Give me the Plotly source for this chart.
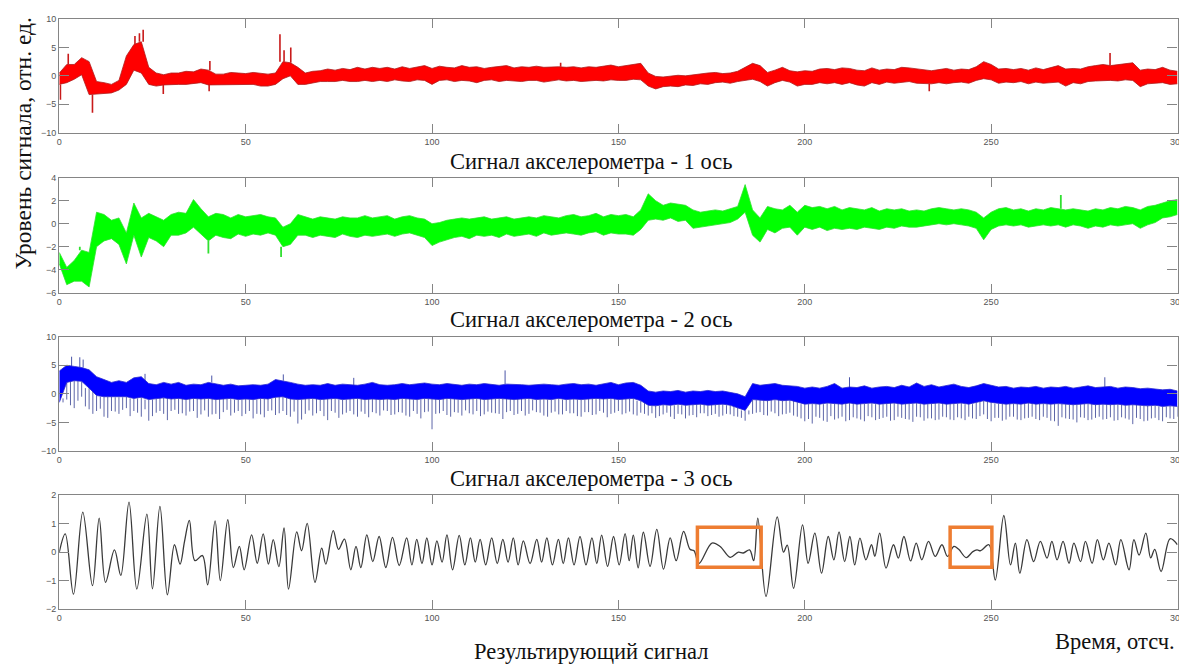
import plotly.graph_objects as go

# ---------------- data ----------------
t = list(range(0, 301, 2))  # sample grid, time in samples
t_mid = list(range(1, 300, 2))  # in-between samples (used for the dense spikes of axis 3)

red_hi = [0.5, 2.0, 2.0, 3.2, 2.5, -1.0, -1.2, -1.5, -0.8, 3.5,
          5.5, 6.0, 1.5, 0.5, 0.2, 0.5, 0.5, 0.8, 0.7, 1.2,
          1.0, 0.3, 0.3, 0.6, 0.5, 0.4, 0.6, 0.5, 0.3, 0.5,
          2.5, 2.3, 1.5, 0.5, 0.8, 0.9, 1.2, 1.0, 1.3, 1.1,
          1.5, 1.2, 1.5, 1.3, 1.5, 1.2, 1.6, 1.3, 1.5, 1.8,
          1.3, 1.7, 1.5, 1.4, 1.8, 1.5, 1.6, 1.3, 1.5, 1.6,
          1.8, 1.4, 1.6, 1.5, 1.7, 1.5, 1.6, 1.6, 1.5, 1.6,
          1.4, 1.6, 1.5, 1.7, 1.9, 1.6, 1.8, 1.9, 2.2, 0.5,
          -0.1, -0.2, 0.0, 0.1, 0.0, 0.2, 0.3, 0.5, 0.6, 0.4,
          0.5, 0.8, 1.5, 2.2, 1.8, 0.6, 1.0, 1.5, 0.9, 0.7,
          0.9, 0.8, 1.2, 1.3, 1.1, 1.4, 1.3, 1.0, 0.9, 1.4,
          1.0, 1.2, 1.1, 1.5, 1.4, 1.2, 1.0, 0.9, 1.1, 1.3,
          1.0, 1.2, 1.1, 1.6, 2.5, 2.0, 1.2, 1.3, 1.1, 1.3,
          1.0, 1.4, 1.1, 1.5, 1.8, 1.2, 1.3, 1.2, 1.6, 1.8,
          2.0, 1.8, 2.0, 2.1, 2.3, 1.0, 1.2, 1.1, 1.5, 1.0,
          0.8]
red_lo = [-1.5, -1.2, -0.6, 0.2, -3.3, -3.2, -3.0, -3.0, -2.5, -1.5,
          1.0, 0.5, -1.5, -1.8, -1.6, -1.5, -1.5, -1.5, -1.3, -1.2,
          -1.6, -1.6, -1.5, -1.5, -1.6, -1.5, -1.5, -1.8, -1.8, -1.5,
          -0.5, 0.0, -1.5, -1.5, -1.2, -1.0, -1.0, -1.0, -0.8, -1.0,
          -1.0, -0.8, -1.0, -0.8, -1.0, -0.7, -0.9, -1.0, -0.7, -0.8,
          -1.5, -0.8, -0.7, -1.0, -0.8, -0.9, -1.2, -0.8, -0.7, -1.0,
          -0.8, -0.9, -1.0, -0.8, -0.8, -1.1, -0.9, -0.7, -0.9, -0.8,
          -1.0, -0.9, -0.8, -0.9, -0.7, -0.8, -0.8, -0.6, -0.7, -1.8,
          -2.3, -1.9, -1.8, -1.9, -1.6, -1.7, -1.4, -1.5, -1.2, -1.1,
          -1.3, -1.0, -0.8, -0.6, -1.0, -1.8, -1.2, -0.8, -1.1, -1.8,
          -1.5, -1.5, -1.2, -1.4, -1.2, -1.5, -1.2, -1.6, -1.8, -1.2,
          -1.5, -1.1, -1.3, -1.1, -1.0, -1.3, -1.4, -1.4, -1.2, -1.4,
          -1.2, -1.1, -1.3, -0.8, -0.5, -0.7, -1.3, -1.1, -1.2, -1.0,
          -1.4, -1.1, -1.3, -1.2, -1.1, -1.8, -1.2, -1.4, -1.0, -0.9,
          -0.8, -0.8, -0.9, -0.7, -0.8, -1.9, -1.4, -1.3, -1.2, -1.5,
          -1.4]
# isolated narrow spikes on axis 1 (time, level)
red_spk_t = [0.3, 2.4, 8.9, 20.3, 21.5, 22.5, 27.9, 40.2, 40.4, 59.2, 60.3, 62.1, 134.5, 233.4, 281.9]
red_spk_v = [-4.2, 3.9, -6.5, 7.0, 7.5, 8.1, -3.2, -2.7, 2.6, 7.3, 4.5, 5.0, 2.3, -2.7, 4.0]

green_hi = [-2.5, -3.8, -3.2, -2.3, -2.5, 1.0, 0.8, 0.3, 0.5, -0.8,
            1.8, 0.5, 0.9, 0.6, 0.3, 0.8, 1.0, 0.9, 2.1, 1.3,
            0.6, 0.9, 0.8, 0.5, 0.8, 0.6, 0.7, 0.8, 0.6, 0.5,
            -0.3, 0.0, 0.8, 0.6, 0.4, 0.6, 0.5, 0.4, 0.6, 0.5,
            0.5, 0.7, 0.5, 0.6, 0.7, 0.4, 0.6, 0.7, 0.5, 0.4,
            0.0, 0.1, 0.3, 0.4, 0.5, 0.4, 0.5, 0.6, 0.4, 0.5,
            0.6, 0.4, 0.5, 0.6, 0.5, 0.7, 0.6, 0.5, 0.7, 0.8,
            0.6, 0.7, 0.9, 0.6, 0.8, 0.7, 0.8, 0.6, 1.2, 2.6,
            2.0, 1.6, 1.8, 1.7, 1.6, 1.2, 1.0, 1.1, 1.2, 1.1,
            1.3, 1.5, 3.4, 1.2, 0.5, 1.5, 1.3, 1.2, 1.6, 1.0,
            1.6, 1.4, 1.5, 1.3, 1.5, 1.2, 1.4, 1.3, 1.2, 1.4,
            1.1, 1.3, 1.2, 1.3, 1.1, 1.2, 1.1, 1.3, 1.4, 1.3,
            1.2, 1.3, 1.2, 1.0, 0.5, 1.0, 1.3, 1.4, 1.2, 1.3,
            1.1, 1.3, 1.2, 1.4, 1.3, 1.2, 1.3, 1.2, 1.1, 1.3,
            1.2, 1.4, 1.3, 1.5, 1.4, 1.2, 1.5, 1.6, 1.8, 2.0,
            2.1]
green_lo = [-3.5, -5.3, -5.0, -5.0, -5.5, -2.0, -1.5, -1.3, -1.8, -3.5,
            -1.0, -2.9, -1.2, -1.5, -2.0, -1.0, -1.0, -0.8, -0.3, -0.9,
            -1.5, -1.0, -1.2, -1.3, -0.9, -1.1, -0.9, -1.0, -0.8, -1.0,
            -2.0, -1.8, -1.0, -1.0, -1.2, -1.0, -1.1, -1.2, -0.9, -1.1,
            -1.2, -1.0, -1.1, -1.0, -0.9, -1.1, -0.9, -0.8, -1.0, -1.2,
            -1.9, -1.6, -1.4, -1.2, -1.1, -1.3, -1.0, -1.1, -1.0, -1.2,
            -0.9, -1.1, -1.0, -0.9, -1.1, -0.8, -1.0, -0.9, -0.8, -0.9,
            -1.0, -0.8, -0.7, -1.0, -0.8, -0.9, -0.9, -1.0, -0.5, 0.3,
            0.4, 0.3, 0.5, 0.2, 0.3, -0.4, -0.3, -0.2, -0.1, 0.0,
            0.1, 0.4, 1.0, -1.0, -1.6, -0.5, -0.8, -0.4, -0.3, -1.0,
            -0.3, -0.5, -0.3, -0.6, -0.4, -0.5, -0.4, -0.5, -0.3, -0.4,
            -0.5, -0.3, -0.4, -0.2, -0.3, -0.3, -0.2, -0.1, 0.0, -0.1,
            0.0, -0.1, -0.2, -0.4, -1.4, -0.5, -0.2, -0.1, -0.2, -0.1,
            -0.3, -0.2, -0.1, -0.2, -0.1, -0.3, -0.1, -0.2, -0.4, -0.2,
            -0.3, -0.1, -0.2, -0.1, 0.0, -0.4, -0.1, 0.1, 0.5, 0.6,
            0.8]
green_spk_t = [5.5, 40.0, 59.5, 268.7]
green_spk_v = [-2.0, -2.6, -2.9, 2.5]

blue_hi = [4.0, 5.0, 4.8, 4.6, 4.2, 3.0, 2.5, 2.0, 2.3, 2.0,
           2.8, 3.0, 1.8, 1.6, 2.0, 1.7, 2.0, 1.5, 1.7, 1.6,
           2.0, 1.8, 1.5, 1.7, 1.4, 1.5, 1.6, 1.5, 1.7, 2.5,
           2.3, 2.0, 1.7, 1.5, 1.6, 1.5, 1.8, 1.5, 1.7, 1.6,
           1.5, 1.7, 2.0, 1.6, 1.5, 1.6, 1.8, 1.6, 1.7, 1.9,
           1.7, 1.6, 1.8, 1.6, 1.5, 1.7, 1.6, 1.8, 1.7, 1.5,
           1.7, 1.7, 1.6, 1.5, 1.6, 1.7, 1.6, 1.5, 1.7, 1.8,
           1.6, 1.7, 1.5, 1.8, 2.0, 1.6, 1.9, 2.0, 1.5, 0.5,
           0.3, 0.5, 0.4, 0.6, 0.3, 0.5, 0.4, 0.6, 0.4, 0.5,
           0.3, 0.0, -0.5, 1.8, 1.5, 1.6, 1.8, 1.5, 1.4, 1.3,
           1.0, 1.2, 1.0, 1.3, 1.8, 1.0, 1.2, 1.1, 1.4, 1.0,
           1.2, 1.3, 1.1, 1.5, 1.2, 1.9, 1.3, 1.6, 1.2, 1.4,
           1.7, 1.3, 1.1, 1.4, 1.8, 1.5, 1.2, 1.3, 1.0, 1.2,
           1.1, 1.3, 1.0, 1.2, 1.1, 1.3, 1.0, 1.2, 1.4, 1.1,
           1.2, 1.3, 1.0, 1.2, 1.1, 0.9, 1.0, 0.8, 0.7, 0.8,
           0.5]
blue_lo = [-1.5, 2.0, 2.3, 2.2, 1.0, -0.3, -0.5, -0.5, -0.6, -0.5,
           -0.8, -0.6, -1.0, -0.8, -0.7, -0.9, -0.8, -1.0, -0.8, -0.9,
           -0.8, -1.0, -0.9, -0.8, -1.0, -0.9, -1.0, -0.8, -0.9, -0.6,
           -0.5, -0.9, -1.0, -0.9, -0.8, -1.0, -0.9, -0.8, -1.0, -0.9,
           -0.8, -1.0, -0.9, -1.0, -0.9, -1.0, -0.8, -0.9, -1.0, -0.8,
           -0.9, -1.0, -0.8, -0.9, -1.0, -0.9, -0.8, -1.0, -0.9, -0.8,
           -0.9, -1.0, -0.9, -0.8, -1.0, -0.9, -1.0, -0.8, -1.0, -0.9,
           -1.0, -0.9, -0.8, -0.9, -0.8, -1.0, -0.9, -0.8, -1.2, -2.0,
           -2.1, -1.9, -2.0, -1.8, -2.0, -1.9, -1.8, -2.0, -1.9, -1.8,
           -2.0, -2.4, -2.9, -1.0, -1.1, -1.2, -1.0, -1.2, -1.1, -1.5,
           -1.8, -1.7, -1.8, -1.6, -1.7, -1.8, -1.6, -1.8, -1.7, -1.6,
           -1.8, -1.7, -1.6, -1.8, -1.7, -1.6, -1.8, -1.7, -1.6, -1.8,
           -1.7, -1.6, -1.8, -1.5, -1.2, -1.5, -1.7, -1.8, -1.7, -1.8,
           -1.6, -1.8, -1.7, -1.8, -1.7, -1.8, -1.9, -1.8, -1.7, -1.9,
           -1.8, -1.9, -1.8, -2.0, -1.9, -2.0, -2.1, -2.0, -2.2, -2.1,
           -2.2]
# downward spike tips on axis 3, at t and at t_mid
blue_spike = [-1.5, -1.0, -2.5, -0.5, -2.7, -3.0, -4.0, -3.0, -3.5, -2.5,
              -3.0, -4.0, -4.7, -3.3, -3.5, -3.0, -3.5, -3.8, -3.0, -3.6,
              -4.0, -3.5, -3.2, -3.8, -3.0, -3.5, -4.3, -3.6, -3.0, -3.7,
              -3.0, -4.0, -5.2, -3.5, -3.8, -3.0, -4.6, -3.3, -3.6, -3.0,
              -4.0, -3.5, -3.2, -3.8, -3.0, -3.6, -3.3, -4.0, -3.5, -3.2,
              -6.2, -3.4, -3.7, -3.2, -3.8, -3.4, -3.0, -3.6, -3.3, -3.5,
              -3.2, -3.7, -3.0, -3.5, -3.2, -3.8, -3.3, -3.6, -3.0, -3.4,
              -4.0, -3.2, -3.6, -3.3, -3.5, -3.0, -3.4, -3.6, -3.3, -3.8,
              -4.2, -3.6, -4.0, -3.5, -4.3, -3.7, -3.4, -3.9, -3.5, -3.8,
              -3.6, -4.0, -4.7, -3.5, -3.2, -3.8, -3.4, -3.6, -3.3, -4.0,
              -4.8, -5.2, -4.2, -4.9, -4.5, -4.0, -4.6, -4.3, -4.8, -4.1,
              -4.4, -4.0, -4.6, -4.2, -4.5, -4.0, -4.7, -4.3, -4.5, -4.1,
              -4.6, -4.3, -4.0, -4.4, -3.6, -4.8, -4.2, -4.5, -4.0, -4.6,
              -4.2, -4.4, -4.0, -4.7, -5.6, -4.3, -4.5, -4.1, -4.6, -4.2,
              -4.5, -4.1, -4.6, -4.3, -5.3, -4.4, -4.7, -4.2, -4.8, -4.3,
              -4.0]
blue_spike_mid = [-0.8, -2.0, -1.2, -2.2, -3.5, -2.6, -4.2, -3.1, -2.8, -3.9,
                  -3.3, -2.7, -3.9, -3.0, -4.6, -2.8, -3.4, -3.1, -4.2, -2.9,
                  -3.6, -4.4, -2.8, -3.3, -3.9, -3.0, -3.5, -4.1, -2.9, -3.4,
                  -3.7, -3.1, -4.5, -2.9, -3.4, -3.9, -3.0, -4.2, -3.3, -3.6,
                  -3.1, -4.1, -3.4, -2.9, -3.7, -3.2, -3.8, -3.0, -4.3, -3.1,
                  -3.5, -3.0, -4.0, -3.3, -2.9, -3.6, -3.9, -3.1, -3.4, -4.4,
                  -3.0, -3.5, -3.8, -2.9, -3.3, -4.0, -3.1, -3.6, -3.4, -3.9,
                  -3.2, -3.7, -3.0, -4.1, -3.3, -3.6, -3.1, -3.8, -3.5, -3.4,
                  -3.9, -3.3, -4.4, -3.6, -3.8, -4.1, -3.4, -3.7, -4.0, -3.5,
                  -3.9, -4.2, -3.6, -3.3, -3.7, -3.1, -3.9, -3.5, -3.8, -4.3,
                  -4.4, -4.0, -4.7, -3.9, -4.3, -4.8, -4.1, -4.5, -3.9, -4.6,
                  -4.2, -4.7, -4.0, -4.4, -4.9, -4.1, -4.3, -4.6, -4.0, -4.5,
                  -4.1, -4.6, -4.3, -3.9, -4.4, -4.2, -4.7, -4.0, -4.5, -4.3,
                  -4.0, -4.6, -4.2, -4.8, -4.1, -4.4, -5.0, -4.2, -4.5, -4.0,
                  -4.4, -4.7, -4.1, -4.5, -4.2, -4.8, -4.3, -4.6, -4.1, -4.4]
blue_up_t = [3.3, 5.5, 6.4, 23.0, 40.9, 60.1, 79.0, 119.6, 212.0, 280.5]
blue_up_v = [6.5, 6.4, 6.0, 3.5, 3.2, 3.4, 2.8, 4.1, 2.9, 2.9]

# resulting signal: turning points (time, level)
res_x = [0, 1.6, 3.8, 6.3, 8.9, 10.7, 12.4, 14.8, 16.5, 18.7,
         20.8, 23.5, 25.0, 27.0, 29.0, 30.9, 32.4, 33.6, 34.9, 36.4,
         38.4, 39.8, 41.8, 43.2, 45.2, 46.7, 48.3, 49.6, 51.6, 53.1,
         54.7, 56.1, 57.4, 58.9, 60.3, 61.5, 63.7, 65.0, 66.5, 68.6,
         70.4, 71.5, 73.5, 74.9, 76.5, 78.2, 79.6, 80.9, 82.5, 84.1,
         85.8, 87.6, 89.4, 91.2, 93.2, 94.6, 95.9, 97.3, 98.6, 100.0,
         101.3, 102.7, 104.0, 105.5, 107.3, 108.8, 110.3, 111.6, 112.9, 114.4,
         116.0, 117.5, 119.0, 120.4, 121.8, 123.1, 124.5, 126.3, 128.1, 129.4,
         130.8, 132.3, 133.9, 135.2, 136.6, 138.1, 139.7, 141.3, 142.9, 144.2,
         145.5, 147.1, 148.7, 150.2, 151.8, 152.9, 154.0, 155.3, 156.7, 158.5,
         160.3, 162.1, 163.9, 165.5, 167.5, 169.2, 170.3, 171.6, 175.1, 177.3,
         180.0, 182.2, 183.5, 185.2, 186.3, 187.4, 189.6, 192.6, 194.3, 195.3,
         197.0, 199.4, 200.9, 202.7, 204.5, 206.3, 207.8, 209.2, 210.7, 212.1,
         213.4, 214.8, 216.4, 217.9, 218.8, 220.1, 221.8, 223.8, 225.1, 226.6,
         228.4, 229.9, 231.4, 233.2, 235.0, 236.8, 238.3, 240.0, 241.3, 243.3,
         245.1, 246.2, 247.2, 249.4, 251.1, 253.4, 255.2, 256.5, 257.7, 259.6,
         261.4, 263.2, 265.0, 266.3, 267.7, 269.3, 270.9, 272.2, 274.0, 275.3,
         277.1, 278.5, 280.1, 281.6, 283.4, 284.8, 287.0, 288.3, 289.7, 291.5,
         292.8, 293.9, 295.6, 298.0, 300.0]
res_y = [0.0, 0.64, -1.48, 1.41, -1.18, 1.2, -1.06, 0.08, -0.82, 1.76,
         -1.3, 1.34, -1.29, 1.61, -1.5, 0.26, -0.42, 0.38, 1.12, -0.3,
         -0.12, -1.15, 1.1, -1.0, 1.14, -0.54, 0.2, -0.62, 0.61, -0.39,
         0.64, -0.42, 0.44, -0.51, 0.85, -1.3, 0.71, 0.05, 1.01, -1.06,
         0.14, -0.42, 0.76, 0.1, 0.46, -0.62, 0.2, -0.54, 0.61, -0.33,
         0.55, -0.54, 0.52, -0.47, 0.5, -0.45, 0.45, -0.4, 0.5, -0.45,
         0.4, -0.35, 0.61, -0.62, 0.59, -0.45, 0.5, -0.35, 0.45, -0.45,
         0.5, -0.4, 0.45, -0.35, 0.5, -0.45, 0.4, -0.4, 0.45, -0.35,
         0.5, -0.45, 0.45, -0.4, 0.5, -0.45, 0.55, -0.45, 0.5, -0.4,
         0.6, -0.5, 0.55, -0.45, 0.65, -0.3, 0.6, -0.55, 0.7, -0.5,
         0.8, -0.6, 0.5, -0.3, 0.73, 0.1, 0.05, -0.4, 0.32, 0.2,
         -0.18, 0.0, -0.03, 0.08, -0.3, 1.2, -1.56, 1.24, 0.0, 0.25,
         -1.27, 0.96, -0.39, 0.67, -0.74, 0.55, -0.27, 0.71, -0.33, 0.55,
         -0.45, 0.49, -0.27, 0.26, -0.15, 0.67, -0.56, 0.26, -0.21, 0.55,
         -0.31, 0.32, -0.27, 0.38, -0.15, 0.26, -0.15, 0.2, 0.1, -0.19,
         0.02, 0.08, 0.05, 0.26, -0.98, 1.29, -0.45, 0.32, -0.74, 0.44,
         -0.33, 0.38, -0.21, 0.38, -0.27, 0.38, -0.39, 0.32, -0.33, 0.38,
         -0.39, 0.44, -0.27, 0.32, -0.45, 0.44, -0.62, 0.44, -0.1, 0.67,
         -0.2, 0.1, -0.68, 0.47, 0.26]

# highlighted intervals on the resulting signal
box_t = [(171.2, 188.3), (239.0, 250.2)]
box_level = (-0.53, 0.88)

titles = ["Сигнал акселерометра - 1 ось", "Сигнал акселерометра - 2 ось",
          "Сигнал акселерометра - 3 ось", "Результирующий сигнал"]
y_ranges = [(-10, 10), (-6, 4), (-10, 10), (-2, 2)]
y_ticks = [[-10, -5, 0, 5, 10], [-6, -4, -2, 0, 2, 4],
           [-10, -5, 0, 5, 10], [-2, -1, 0, 1, 2]]
x_ticks = [0, 50, 100, 150, 200, 250, 300]

# ---------------- figure ----------------
W, H = 1187, 666
OFF = 8  # page body margin in the browser


def fx(px):
    return (px - OFF) / W


def fy(py):
    return 1 - (py - OFF) / H


fig = go.Figure()

domains = [[fy(132.7), fy(19)], [fy(292.7), fy(177.7)], [fy(451), fy(336.7)], [fy(609), fy(495.3)]]
xdom = [fx(59.3), fx(1177.5)]


def axes(k):
    return ("x" if k == 1 else f"x{k}"), ("y" if k == 1 else f"y{k}")


def band(k, hi, lo, fill, edge):
    xa, ya = axes(k)
    fig.add_trace(go.Scatter(x=t, y=lo, mode="lines", line=dict(color=edge, width=0.8),
                             xaxis=xa, yaxis=ya, showlegend=False, hoverinfo="skip"))
    fig.add_trace(go.Scatter(x=t, y=hi, mode="lines", line=dict(color=edge, width=0.8),
                             fill="tonexty", fillcolor=fill,
                             xaxis=xa, yaxis=ya, showlegend=False, hoverinfo="skip"))


def spikes(k, sp_t, sp_v, hi, lo, color, width):
    xa, ya = axes(k)
    sx, sy = [], []
    for x, v in zip(sp_t, sp_v):
        i = int(round(x / 2))
        base = hi[i] if v > hi[i] else lo[i]
        sx += [x, x, None]
        sy += [base, v, None]
    fig.add_trace(go.Scatter(x=sx, y=sy, mode="lines", line=dict(color=color, width=width),
                             xaxis=xa, yaxis=ya, showlegend=False, hoverinfo="skip"))


# axis 3: dense downward strokes (under the band)
spikes(3, t, blue_spike, blue_hi, blue_lo, "#5d66a8", 1.0)
spikes(3, t_mid, blue_spike_mid, blue_hi, blue_lo, "#5d66a8", 1.0)
spikes(3, blue_up_t, blue_up_v, blue_hi, blue_lo, "#4a55a8", 1.0)

band(1, red_hi, red_lo, "#ff0000", "#b01c1c")
band(2, green_hi, green_lo, "#00ff00", "#30e030")
band(3, blue_hi, blue_lo, "#0000ff", "#2a2ad0")

spikes(1, red_spk_t, red_spk_v, red_hi, red_lo, "#c81a1a", 1.6)
spikes(2, green_spk_t, green_spk_v, green_hi, green_lo, "#30e030", 1.8)

fig.add_trace(go.Scatter(x=res_x, y=res_y, mode="lines", line=dict(color="#3a3a3a", width=1.3, shape="spline"),
                         xaxis="x4", yaxis="y4", showlegend=False, hoverinfo="skip"))

for (x0, x1) in box_t:
    fig.add_shape(type="rect", xref="x4", yref="y4", x0=x0, x1=x1, y0=box_level[0], y1=box_level[1],
                  line=dict(color="#ee7d31", width=3.5))

axis_common = dict(showgrid=False, zeroline=False, showline=True, linecolor="#858585", linewidth=1.3,
                   mirror="ticks", ticks="inside", tickcolor="#858585", tickwidth=1.3, automargin=False,
                   tickfont=dict(family="Liberation Sans, Arial", size=9, color="#555555"))
layout = dict(width=W, height=H, autosize=False, margin=dict(l=0, r=0, t=0, b=0, pad=0),
              paper_bgcolor="white", plot_bgcolor="white")
for k in range(1, 5):
    xs = "xaxis" if k == 1 else f"xaxis{k}"
    ys = "yaxis" if k == 1 else f"yaxis{k}"
    xn, yn = axes(k)
    layout[xs] = dict(axis_common, domain=xdom, anchor=yn, range=[0, 300], tickvals=x_ticks, ticklen=9)
    layout[ys] = dict(axis_common, domain=domains[k - 1], anchor=xn, range=list(y_ranges[k - 1]),
                      tickvals=y_ticks[k - 1], ticklen=10)
fig.update_layout(**layout)

serif = "Liberation Serif, Times New Roman, serif"
title_y = [161, 319, 478, 651]
for txt, yp in zip(titles, title_y):
    fig.add_annotation(text=txt, x=fx(591), y=fy(yp), xref="paper", yref="paper",
                       showarrow=False, xanchor="center", yanchor="middle",
                       font=dict(family=serif, size=22.5, color="#111111"))
fig.add_annotation(text="Время, отсч.", x=fx(1177), y=fy(641), xref="paper", yref="paper",
                   showarrow=False, xanchor="right", yanchor="middle",
                   font=dict(family=serif, size=22.5, color="#111111"))
fig.add_annotation(text="Уровень сигнала, отн. ед.", x=fx(22), y=fy(143.5), xref="paper", yref="paper",
                   showarrow=False, textangle=-90, xanchor="center", yanchor="middle",
                   font=dict(family=serif, size=23.5, color="#111111"))

fig.write_html("out.html")
